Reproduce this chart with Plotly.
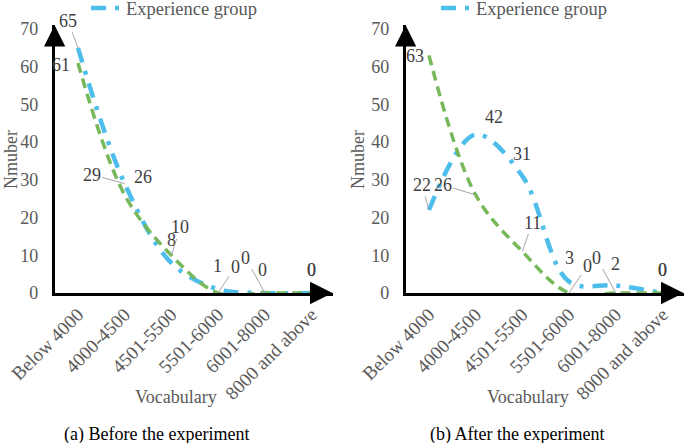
import plotly.graph_objects as go

categories = ["Below 4000", "4000-4500", "4501-5500", "5501-6000", "6001-8000", "8000 and above"]
before_experience = [65, 29, 8, 1, 0, 0]
before_control = [61, 26, 10, 0, 0, 0]
after_experience = [22, 42, 31, 3, 2, 0]
after_control = [63, 26, 11, 0, 0, 0]
y_ticks = [0, 10, 20, 30, 40, 50, 60, 70]

# label offsets (px) for data labels: (ax, ay, leader)
off_before_exp = [(-10, -27, True), (-33, -9, True), (0, -23, False), (-1, -23, False), (-2, -23, False), (0, -23, False)]
off_before_ctl = [(-17, 2, False), (18, -18, False), (9, -28, True), (17, -26, True), (-19, -35, True), (0, -23, False)]
off_after_exp = [(-7, -25, True), (18, -18, False), (0, -22, False), (0, -24, False), (0, -21, False), (0, -23, False)]
off_after_ctl = [(-14, 1, False), (-33, -10, True), (10, -29, True), (18, -27, True), (-19, -35, True), (0, -23, False)]

FONT = "Liberation Serif, Times New Roman, serif"
BLUE = "#4DBDEB"
GREEN = "#76B85A"
LABEL = "#404040"
TICK = "#595959"

fig = go.Figure()

def add_pair(exp, ctl, xa, ya, legend):
    fig.add_trace(go.Scatter(
        x=categories, y=exp, mode="lines", name="Experience group",
        line=dict(color=BLUE, width=4.5, dash="15px,9px,4px,9px", shape="spline"),
        xaxis=xa, yaxis=ya, legend=legend, cliponaxis=False))
    fig.add_trace(go.Scatter(
        x=categories, y=ctl, mode="lines", name="Control group", showlegend=False,
        line=dict(color=GREEN, width=3.5, dash="10px,6px", shape="spline"),
        xaxis=xa, yaxis=ya, cliponaxis=False))

add_pair(before_experience, before_control, "x", "y", "legend")
add_pair(after_experience, after_control, "x2", "y2", "legend2")

annotations = []

def add_labels(vals, offs, xref, yref):
    for c, v, (ax, ay, lead) in zip(categories, vals, offs):
        annotations.append(dict(
            x=c, y=v, xref=xref, yref=yref, text=str(v), showarrow=True,
            ax=ax, ay=ay, arrowhead=0, arrowwidth=1,
            arrowcolor="#A6A6A6" if lead else "rgba(0,0,0,0)",
            font=dict(family=FONT, size=18, color=LABEL), standoff=0))

add_labels(before_experience, off_before_exp, "x", "y")
add_labels(before_control, off_before_ctl, "x", "y")
add_labels(after_experience, off_after_exp, "x2", "y2")
add_labels(after_control, off_after_ctl, "x2", "y2")

XR = [-0.5, 5.45]
YR = [0, 71]

# arrow heads on axes
for xref, yref in (("x", "y"), ("x2", "y2")):
    annotations.append(dict(x=XR[1], y=0, xref=xref, yref=yref, ax=-16, ay=0,
                            showarrow=True, arrowhead=2, arrowsize=1.5, arrowwidth=3,
                            arrowcolor="black", text=""))
    annotations.append(dict(x=XR[0], y=YR[1], xref=xref, yref=yref, ax=0, ay=16,
                            showarrow=True, arrowhead=2, arrowsize=1.7, arrowwidth=2.5,
                            arrowcolor="black", text=""))

# axis titles and captions
for xc, yx in ((11 / 685, 176 / 685), (358 / 685, 528 / 685)):
    annotations.append(dict(x=xc, y=1 - 160 / 443, xref="paper", yref="paper", text="Nmuber",
                            textangle=-90, showarrow=False, xanchor="center", yanchor="middle",
                            font=dict(family=FONT, size=18, color=TICK)))
    annotations.append(dict(x=yx, y=1 - 397 / 443, xref="paper", yref="paper", text="Vocabulary",
                            showarrow=False, xanchor="center", yanchor="middle",
                            font=dict(family=FONT, size=18, color=TICK)))

annotations.append(dict(x=156 / 685, y=1 - 434 / 443, xref="paper", yref="paper",
                        text="(a) Before the experiment", showarrow=False,
                        xanchor="center", yanchor="middle",
                        font=dict(family=FONT, size=18, color="black")))
annotations.append(dict(x=517 / 685, y=1 - 434 / 443, xref="paper", yref="paper",
                        text="(b) After the experiment", showarrow=False,
                        xanchor="center", yanchor="middle",
                        font=dict(family=FONT, size=18, color="black")))

xaxis_style = dict(type="category", range=XR, showgrid=False, zeroline=False,
                   showline=True, linecolor="black", linewidth=3, layer="below traces",
                   tickangle=-45, ticks="", ticklabelstandoff=0,
                   tickfont=dict(family=FONT, size=19, color=TICK),
                   fixedrange=True, automargin=False)
yaxis_style = dict(range=YR, tickvals=y_ticks, showgrid=False, zeroline=False,
                   showline=True, linecolor="black", linewidth=2.5, layer="below traces",
                   ticks="", ticklabelstandoff=10, automargin=False,
                   tickfont=dict(family=FONT, size=18, color=TICK), fixedrange=True)

legend_style = dict(orientation="h", yanchor="top", y=1.024, xanchor="left",
                    font=dict(family=FONT, size=18.5, color=TICK), bgcolor="rgba(0,0,0,0)")

fig.update_layout(
    width=685, height=443, margin=dict(l=0, r=0, t=0, b=0, autoexpand=False),
    paper_bgcolor="white", plot_bgcolor="white",
    xaxis=dict(domain=[54.6 / 685, 332.5 / 685], anchor="y", **xaxis_style),
    yaxis=dict(domain=[1 - 293 / 443, 1 - 25.2 / 443], anchor="x", **yaxis_style),
    xaxis2=dict(domain=[405.6 / 685, 683.5 / 685], anchor="y2", **xaxis_style),
    yaxis2=dict(domain=[1 - 293 / 443, 1 - 25.2 / 443], anchor="x2", **yaxis_style),
    legend=dict(x=86 / 685, **legend_style),
    legend2=dict(x=436 / 685, **legend_style),
    annotations=annotations,
    showlegend=True,
)

fig.write_html("out.html", config={"displayModeBar": False},
               post_script="document.body.style.margin='0';document.body.style.overflow='hidden';")
